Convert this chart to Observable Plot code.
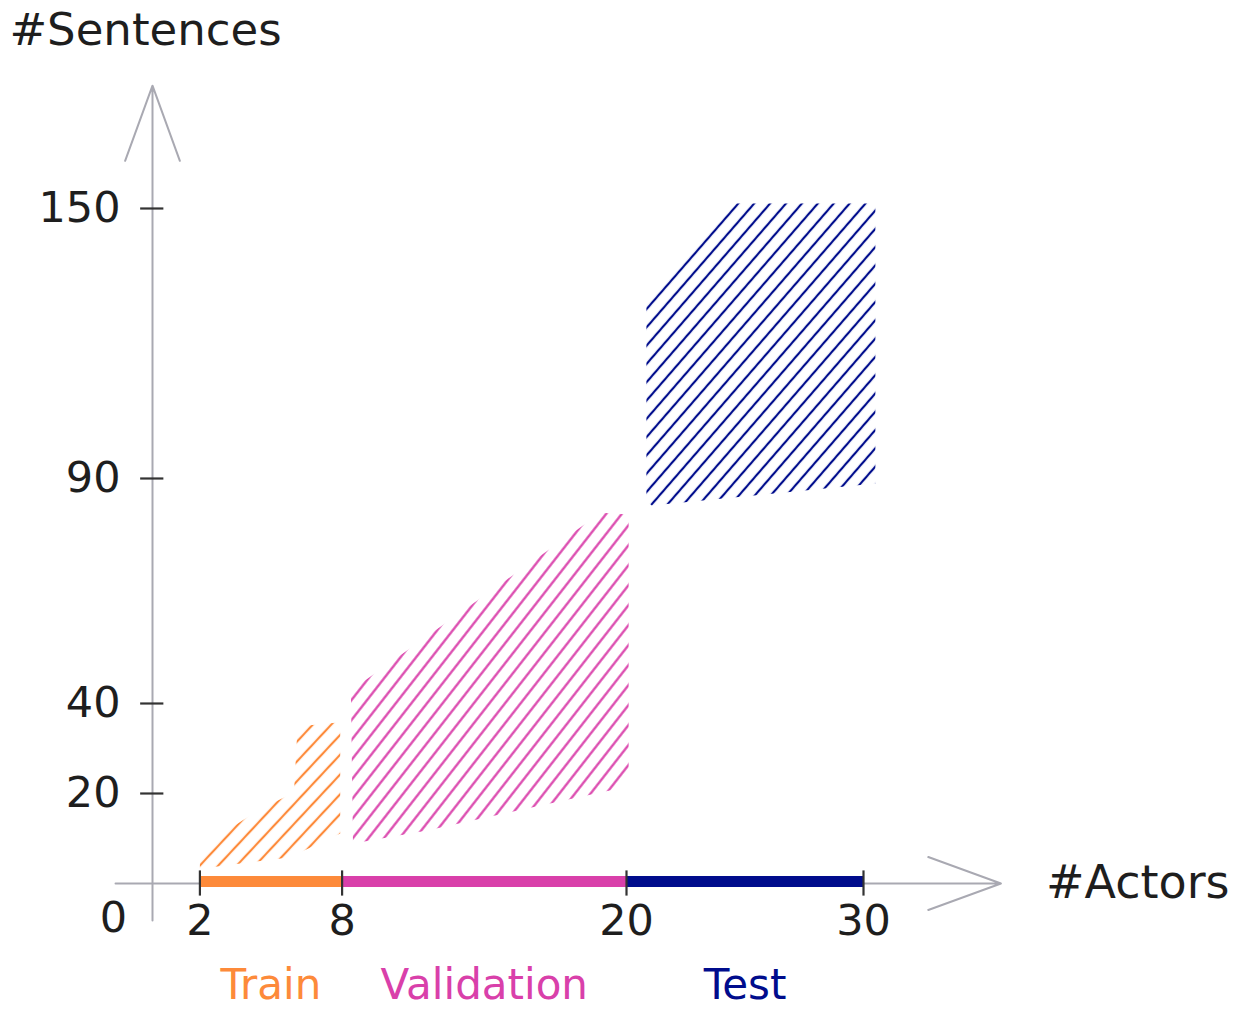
<!DOCTYPE html>
<html><head><meta charset="utf-8">
<script src="https://cdn.jsdelivr.net/npm/d3@7"></script>
<script src="https://cdn.jsdelivr.net/npm/@observablehq/plot@0.6"></script>
<style>body{margin:0;background:#fff} svg{display:block}</style>
</head><body><div id="chart"></div>
<script>
// ---- data ----
const splits = ["Train", "Validation", "Test"];
const splitStart = [2, 8, 20];
const splitEnd = [8, 20, 30];
const splitColors = ["#fd8a3a", "#d940aa", "#000c8c"];
const xTicks = [2, 8, 20, 30];
const yTicks = [20, 40, 90, 150];
const originLabel = ["0"];
const xTitle = "#Actors";
const yTitle = "#Sentences";
const xAxisExtent = [-1.56, 35.8];
const yAxisExtent = [-8.2, 177.3];

// hatched regions (x = #actors, y = #sentences), polygon vertices
const trainX = [2, 2, 2.99, 4.44, 5.97, 6.10, 6.54, 7.83, 7.92, 7.92, 5.77];
const trainY = [3.3, 5.1, 11.3, 16.2, 20.2, 32.9, 35.1, 35.8, 35.1, 11.1, 5.8];
const valX = [8.37, 18.92, 20.09, 20.09, 19.34, 15.03, 11.59, 8.46];
const valY = [42.9, 82.4, 82.0, 25.1, 20.7, 15.8, 11.8, 8.9];
const testX = [20.84, 24.62, 30.5, 30.5, 21.07, 20.84];
const testY = [129.6, 151.1, 151.1, 88.9, 84.0, 85.0];

// ---- tables ----
const regions = [[trainX, trainY], [valX, valY], [testX, testY]].map(([xs, ys], i) =>
  xs.map((x, j) => ({split: splits[i], x, y: ys[j]})));
const segs = splits.map((s, i) => ({split: s, start: splitStart[i], end: splitEnd[i], color: splitColors[i], mid: (splitStart[i] + splitEnd[i]) / 2}));
const hatch = [{angle: 47, gap: 13.5}, {angle: 52, gap: 12.3}, {angle: 49, gap: 12}];

const axisGray = "#a9a9b2";
const ink = "#1e1e1e";
const font = "DejaVu Sans";

const svg = Plot.plot({
  width: 1252,
  height: 1014,
  style: {background: "white", fontFamily: font},
  x: {type: "linear", domain: [0, 30], range: [152, 863], axis: null},
  y: {type: "linear", domain: [0, 150], range: [883, 208], axis: null},
  color: {type: "identity"},
  marks: [
    // hatched regions
    ...regions.map((rows, i) => Plot.line(rows, {x: "x", y: "y", fill: `url(#hatch-${i})`, stroke: "none", z: null})),
    // axes with arrows
    Plot.arrow([{x1: 0, y1: yAxisExtent[0], x2: 0, y2: yAxisExtent[1]}], {x1: "x1", y1: "y1", x2: "x2", y2: "y2", stroke: axisGray, strokeWidth: 2, headAngle: 40, headLength: 60}),
    Plot.arrow([{x1: xAxisExtent[0], y1: 0, x2: xAxisExtent[1], y2: 0}], {x1: "x1", y1: "y1", x2: "x2", y2: "y2", stroke: axisGray, strokeWidth: 2, headAngle: 40, headLength: 58}),
    // colored split bars on the x axis
    Plot.ruleY(segs, {y: () => 0, x1: "start", x2: "end", stroke: "color", strokeWidth: 11, dy: -2}),
    // y ticks
    Plot.ruleY(yTicks, {y: d => d, x1: () => -0.5, x2: () => 0.48, stroke: "#333", strokeWidth: 2.2}),
    Plot.text(yTicks, {x: () => 0, y: d => d, text: d => String(d), textAnchor: "end", dx: -32, fontSize: 43, fill: ink}),
    // x ticks
    Plot.ruleX(xTicks, {x: d => d, y1: () => -2.8, y2: () => 2.8, stroke: "#333", strokeWidth: 2.2}),
    Plot.text(xTicks, {x: d => d, y: () => 0, text: d => String(d), dy: 38, fontSize: 43, fill: ink}),
    Plot.text(originLabel, {x: () => 0, y: () => 0, text: d => d, dx: -39, dy: 35, fontSize: 43, fill: ink}),
    // axis titles
    Plot.text([yTitle], {x: () => 0, y: () => yAxisExtent[1], text: d => d, dx: -7, dy: -55, fontSize: 45, letterSpacing: 1, fill: ink}),
    Plot.text([xTitle], {x: () => xAxisExtent[1], y: () => 0, text: d => d, textAnchor: "start", dx: 45, dy: 0, fontSize: 46, letterSpacing: 2, fill: ink}),
    // split labels
    Plot.text(segs, {x: "mid", y: () => 0, text: "split", fill: "color", dy: 102, fontSize: 42, letterSpacing: 2})
  ]
});

const defs = d3.select(svg).insert("defs", ":first-child");
hatch.forEach((h, i) => {
  const p = defs.append("pattern")
    .attr("id", `hatch-${i}`)
    .attr("patternUnits", "userSpaceOnUse")
    .attr("width", h.gap).attr("height", h.gap)
    .attr("patternTransform", `rotate(${90 - h.angle})`);
  p.append("line")
    .attr("x1", h.gap / 2).attr("x2", h.gap / 2)
    .attr("y1", -1).attr("y2", h.gap + 1)
    .attr("stroke", splitColors[i]).attr("stroke-width", 2.2);
});

document.getElementById("chart").appendChild(svg);
</script>
</body></html>
